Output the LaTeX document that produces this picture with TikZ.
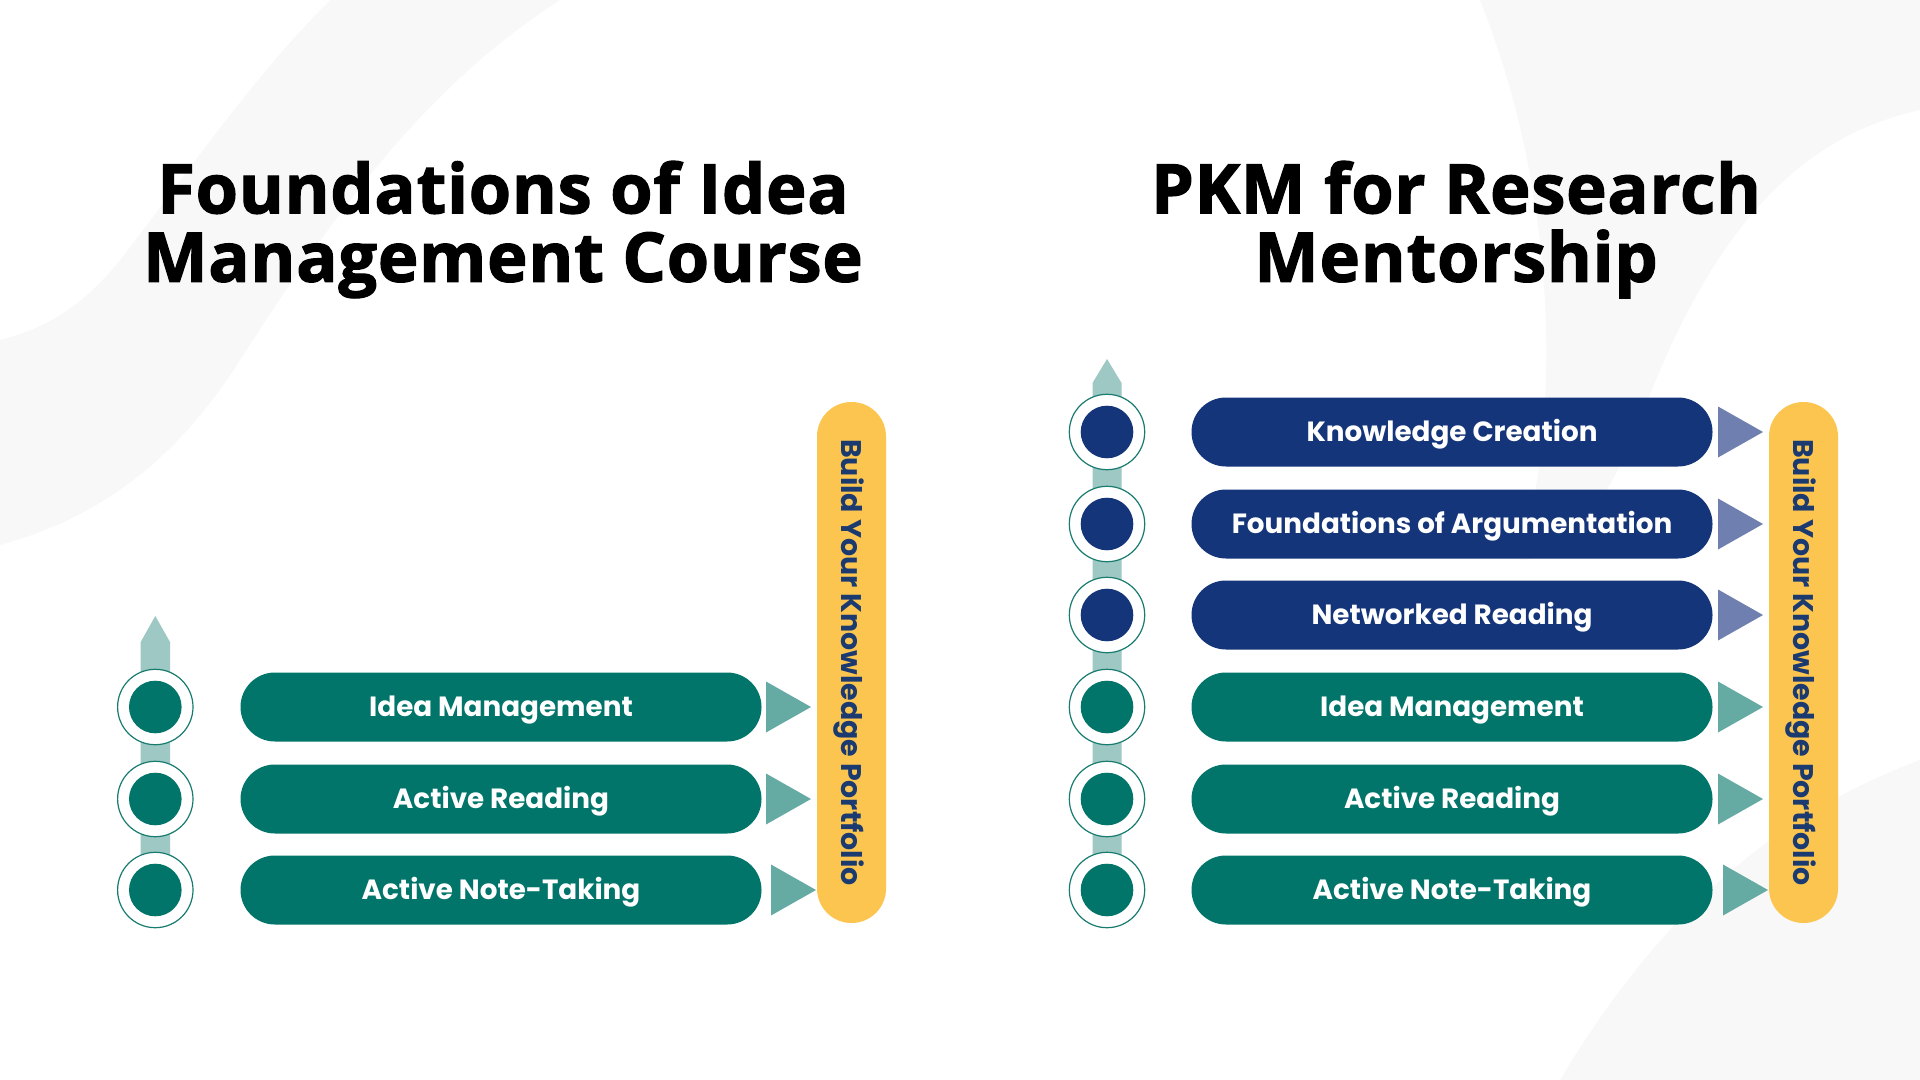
\documentclass[tikz,border=0pt]{standalone}
\usepackage{fontspec}
\newfontfamily\titlefont{Open Sans}[BoldFeatures={FakeBold=1.8,LetterSpace=1.2}]
\newfontfamily\popfont{Poppins}
\usetikzlibrary{calc}
\definecolor{cteal}{HTML}{02756A}
\definecolor{cnavy}{HTML}{15357A}
\definecolor{cbar}{HTML}{9DC8C3}
\definecolor{ctri}{HTML}{66ABA3}
\definecolor{ctrinavy}{HTML}{6E7FB0}
\definecolor{cyellow}{HTML}{FCC550}
\definecolor{cytext}{HTML}{1A3A70}
\definecolor{cring}{HTML}{177B70}
\definecolor{cwave}{HTML}{F8F8F8}
\begin{document}
\begin{tikzpicture}[x=0.5pt,y=-0.5pt,
  titletext/.style={anchor=base, inner sep=0pt, text=black, font=\titlefont\bfseries\fontsize{34.2}{40}\selectfont},
  pill/.style={rectangle, rounded corners=17.2pt, minimum width=260.5pt, minimum height=34.5pt, inner sep=0pt, text height=9.7pt, text depth=0pt, text=white, font=\popfont\bfseries\fontsize{13.9}{16}\selectfont},
  ring/.style={circle, draw=cring, line width=0.6pt, fill=white, minimum size=37.7pt, inner sep=0pt},
  dot/.style={circle, fill=#1, minimum size=26.3pt, inner sep=0pt},
  ybar/.style={rectangle, rounded corners=17.2pt, minimum width=260.5pt, minimum height=34.5pt, inner sep=0pt, text height=10pt, text depth=0pt, fill=cyellow, rotate=-90, text=cytext, font=\popfont\bfseries\fontsize{14.2}{16}\selectfont},
  spine/.style={fill=cbar},
  tri/.style={fill=#1}
]
\useasboundingbox (0,0) rectangle (1920,1080);
\fill[white] (0,0) rectangle (1920,1080);
% faint background waves
\fill[cwave] (0,0) -- (560,0) .. controls (420,90) and (330,220) .. (240,360) .. controls (170,470) and (90,520) .. (0,545) -- cycle;
\fill[white] (0,0) -- (330,0) .. controls (250,80) and (190,170) .. (120,260) .. controls (80,310) and (40,330) .. (0,340) -- cycle;
\fill[cwave] (1480,0) -- (1920,0) -- (1920,110) .. controls (1780,140) and (1700,260) .. (1640,420) .. controls (1600,520) and (1560,560) .. (1520,560) .. controls (1560,420) and (1560,200) .. (1480,0) -- cycle;
\fill[cwave] (1920,760) .. controls (1760,820) and (1650,930) .. (1560,1080) -- (1920,1080) -- cycle;

% ---------- titles ----------
\node[titletext] (tl1) at (503,213.3) {Foundations of Idea};
\node[titletext] (tl2) at (503,281.7) {Management Course};
\node[titletext] (tr1) at (1456,213.3) {PKM for Research};
\node[titletext] (tr2) at (1456,281.7) {Mentorship};

% ---------- left spine ----------
\fill[spine] (140.7,890) -- (140.7,642) -- (155.3,616) -- (170,642) -- (170,890) -- cycle;
\foreach \y/\n in {707/1,799/2,890/3}{
  \node[ring] (lr\n) at (155.3,\y) {};
  \node[dot=cteal] (ld\n) at (155.3,\y) {};
}
\node[pill, fill=cteal] (lp1) at (501,707) {Idea Management};
\node[pill, fill=cteal] (lp2) at (501,799) {Active Reading};
\node[pill, fill=cteal] (lp3) at (501,890) {Active Note-Taking};
\node[ybar] (ly) at (851.5,662.5) {Build Your Knowledge Portfolio};
\fill[tri=ctri] (766,681.5) -- (811,707) -- (766,732.5) -- cycle;
\fill[tri=ctri] (766,773.5) -- (811,799) -- (766,824.5) -- cycle;
\fill[tri=ctri] (771,864.5) -- (816,890) -- (771,915.5) -- cycle;

% ---------- right spine ----------
\fill[spine] (1092.5,890) -- (1092.5,383) -- (1107,359) -- (1121.5,383) -- (1121.5,890) -- cycle;
\foreach \y/\n/\c in {432/1/cnavy,524/2/cnavy,615/3/cnavy,707/4/cteal,799/5/cteal,890/6/cteal}{
  \node[ring] (rr\n) at (1107,\y) {};
  \node[dot=\c] (rd\n) at (1107,\y) {};
}
\node[pill, fill=cnavy] (rp1) at (1452,432) {Knowledge Creation};
\node[pill, fill=cnavy] (rp2) at (1452,524) {Foundations of Argumentation};
\node[pill, fill=cnavy] (rp3) at (1452,615) {Networked Reading};
\node[pill, fill=cteal] (rp4) at (1452,707) {Idea Management};
\node[pill, fill=cteal] (rp5) at (1452,799) {Active Reading};
\node[pill, fill=cteal] (rp6) at (1452,890) {Active Note-Taking};
\node[ybar] (ry) at (1803.5,662.5) {Build Your Knowledge Portfolio};
\foreach \y in {432,524,615}{
  \fill[tri=ctrinavy] (1718,\y-25.5) -- (1763,\y) -- (1718,\y+25.5) -- cycle;
}
\foreach \y in {707,799}{
  \fill[tri=ctri] (1718,\y-25.5) -- (1763,\y) -- (1718,\y+25.5) -- cycle;
}
\fill[tri=ctri] (1723,864.5) -- (1768,890) -- (1723,915.5) -- cycle;
\end{tikzpicture}
\end{document}
